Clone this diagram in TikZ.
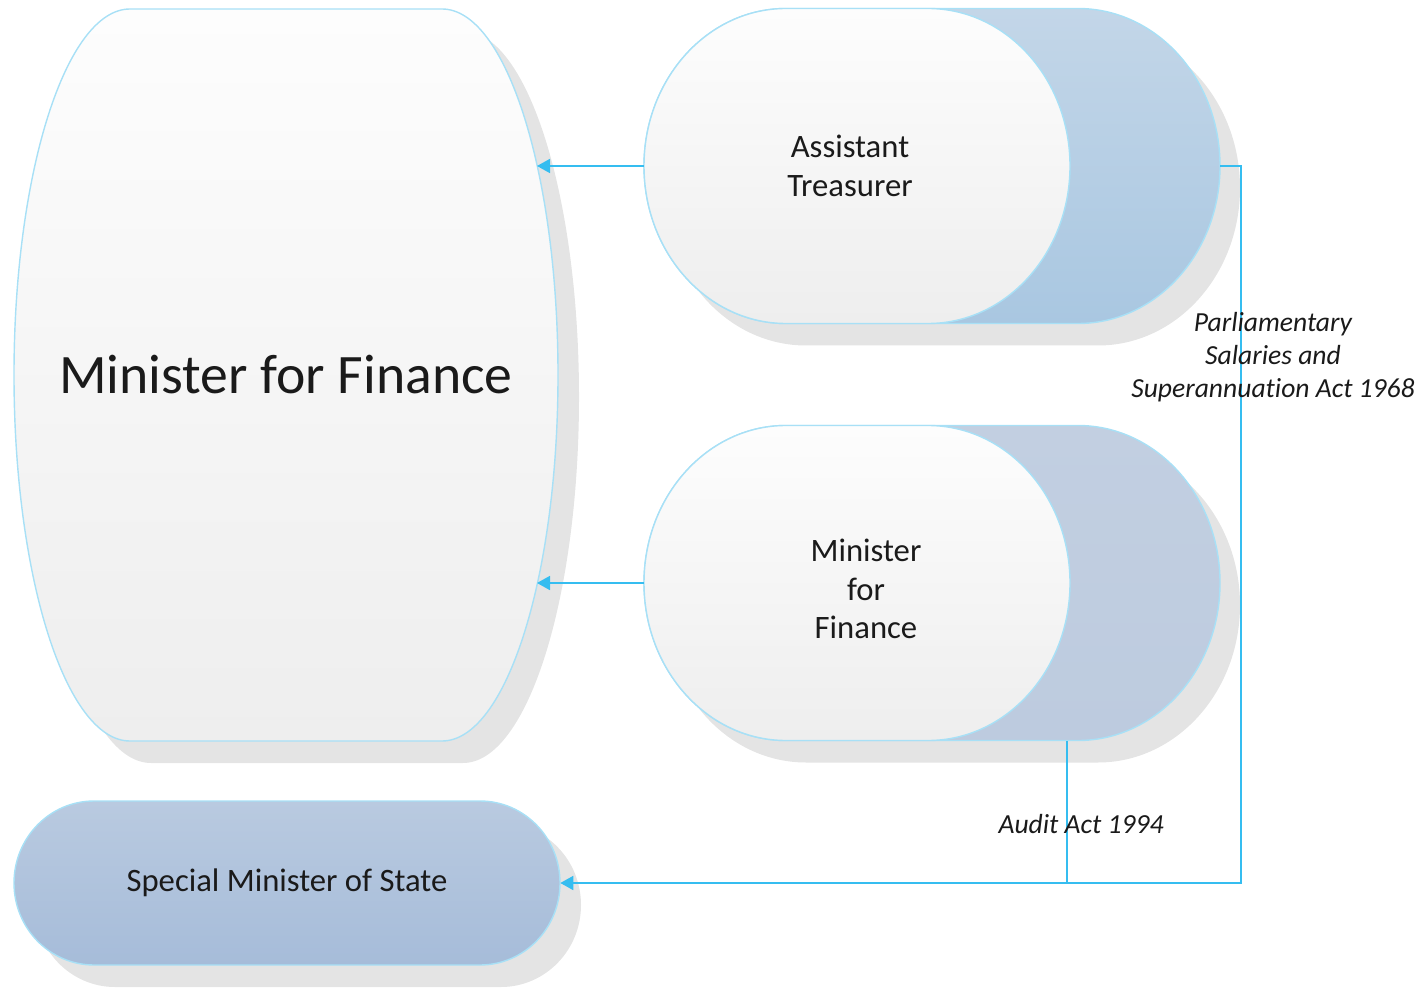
\documentclass[tikz,border=0pt]{standalone}
\usepackage{fontspec}
\setmainfont{Carlito}[Ligatures=NoCommon]
\usetikzlibrary{arrows.meta,calc}

\definecolor{linkblue}{HTML}{35BDF0}
\definecolor{edgeblue}{HTML}{A8E0F6}
\definecolor{shadowgray}{HTML}{E4E4E4}
\definecolor{facetop}{HTML}{FDFDFD}
\definecolor{facebottom}{HTML}{EEEEEE}
\definecolor{backtop}{HTML}{C3D6E8}
\definecolor{backbottom}{HTML}{A9C7E1}
\definecolor{slatetop}{HTML}{C2CFE1}
\definecolor{slatebottom}{HTML}{BDCBDF}
\definecolor{smstop}{HTML}{B9CAE0}
\definecolor{smsbottom}{HTML}{A6BCD9}
\definecolor{textgray}{HTML}{1A1A1A}

% capsule with elliptic ends: [style]{cx}{cy}{half width}{half height}{end radius}
\newcommand{\capsule}[6][]{%
  \path[#1] (#2-#4+#6,#3+#5) -- (#2+#4-#6,#3+#5)
    arc[start angle=90,end angle=-90,x radius=#6,y radius=#5]
    -- (#2-#4+#6,#3-#5)
    arc[start angle=270,end angle=90,x radius=#6,y radius=#5] -- cycle;}

\newcommand{\nodefont}{\fontsize{18.6}{22}\selectfont}
\newcommand{\bigfont}{\fontsize{31.7}{38}\selectfont}
\newcommand{\actfont}{\fontsize{15.7}{18.7}\selectfont\itshape}

\begin{document}
\begin{tikzpicture}[x=0.02cm,y=0.02cm,
    link/.style={draw=linkblue,line width=1pt},
    tip/.style={-{Triangle[length=0.26cm,width=0.28cm]}},
    face/.style={inner sep=0,align=center,text=textgray},
    act/.style={align=center,text=textgray,font=\actfont}]
    \useasboundingbox (0,0) rectangle (1422,988);
    % shadows
    \capsule[fill=shadowgray]{286+21}{613-22}{272}{366}{116}
    \capsule[fill=shadowgray]{932+20}{822-22}{288}{157.5}{142}
    \capsule[fill=shadowgray]{932+20}{405-22}{288}{157.5}{142}
    \capsule[fill=shadowgray]{287+21}{105-22}{273}{82}{80}
    % bodies
    \capsule[shade,top color=facetop,bottom color=facebottom,draw=edgeblue,line width=0.8pt]{286}{613}{272}{366}{116}
    \capsule[shade,top color=backtop,bottom color=backbottom,draw=edgeblue,line width=0.8pt]{932}{822}{288}{157.5}{142}
    \capsule[shade,top color=facetop,bottom color=facebottom,draw=edgeblue,line width=0.8pt]{857}{822}{213}{157.5}{142}
    \capsule[shade,top color=slatetop,bottom color=slatebottom,draw=edgeblue,line width=0.8pt]{932}{405}{288}{157.5}{142}
    \capsule[shade,top color=facetop,bottom color=facebottom,draw=edgeblue,line width=0.8pt]{857}{405}{213}{157.5}{142}
    \capsule[shade,top color=smstop,bottom color=smsbottom,draw=edgeblue,line width=0.8pt]{287}{105}{273}{82}{80}
    % nodes
    \node[face,font=\bigfont,minimum width=10.88cm,minimum height=14.64cm] (mff) at (286,613) {Minister for Finance};
    \node[face,minimum width=8.52cm,minimum height=6.3cm] (at) at (857,822) {};
    \node[face,minimum width=8.52cm,minimum height=6.3cm] (mfs) at (857,405) {};
    \node[face,font=\nodefont,minimum width=10.92cm,minimum height=3.28cm] (sms) at (287,105) {Special Minister of State};
    \node[face,font=\nodefont] (at-name) at ($(at.center)+(-7,0)$) {Assistant\\Treasurer};
    \node[face,font=\nodefont] (mfs-name) at ($(mfs.center)+(9,-6)$) {Minister\\for\\Finance};
    \coordinate (mff-a) at (537,822);
    \coordinate (mff-b) at (537,405);
    \coordinate (audit) at ($(mfs.south east)+(-3,0)$);
    % connectors
    \draw[link,tip] (at.west) -- (mff-a);
    \draw[link,tip] (mfs.west) -- (mff-b);
    \draw[link,tip] ([xshift=3cm]at.east) -- ++(21,0) |- (sms.east);
    \draw[link] (audit) -- (audit |- sms.east);
    \node[act] (psa) at (1273,631) {Parliamentary\\Salaries and\\Superannuation Act 1968};
    \node[act] (audit-act) at (1081,164) {Audit Act 1994};
\end{tikzpicture}
\end{document}
